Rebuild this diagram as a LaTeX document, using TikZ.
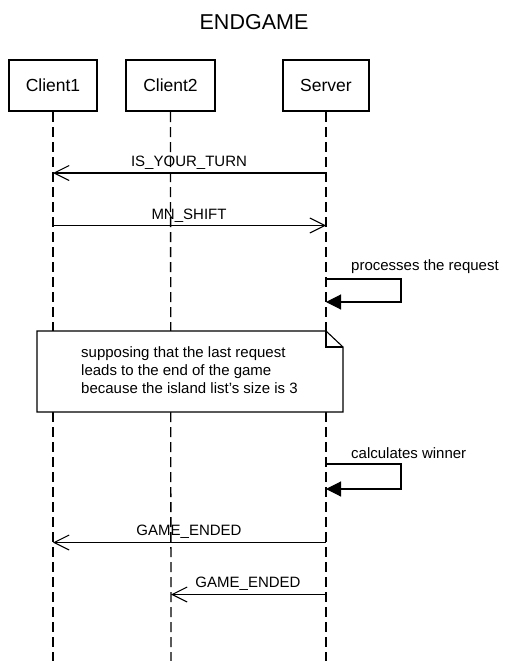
\documentclass[tikz,border=0pt]{standalone}
\usepackage{fontspec}
\setmainfont{Liberation Sans}
\usetikzlibrary{arrows.meta}
\begin{document}
\begin{tikzpicture}[x=1pt,y=-1pt,
  actor/.style={draw,line width=2pt,fill=white,minimum width=88pt,minimum height=51pt,font=\fontsize{17.5}{20}\selectfont,inner sep=0pt},
  lifeline/.style={line width=1.3pt,dash pattern=on 10pt off 5pt},
  msg/.style={line width=1.1pt,-{Straight Barb[length=15pt,width=15pt,line width=1.1pt]}},
  selfmsg/.style={line width=1.1pt,-{Triangle[length=15pt,width=15pt]}},
  lbl/.style={font=\fontsize{15}{18}\selectfont,inner sep=0pt},
  notebox/.style={draw,line width=1.1pt,fill=white}
]
\useasboundingbox (0,0) rectangle (508,661);
\node[font=\fontsize{21.5}{25}\selectfont,inner sep=0pt] (title) at (254,22) {ENDGAME};
\node[actor,minimum width=88pt] (c1) at (53,85.5) {Client1};
\node[actor,minimum width=89pt] (c2) at (170.5,85.5) {Client2};
\node[actor,minimum width=86pt] (sv) at (326,85.5) {Server};
\coordinate (c1e) at (53,661);
\coordinate (c2e) at (171,661);
\coordinate (sve) at (326,661);
\draw[lifeline] (c1.south) -- (c1e);
\draw[lifeline] (c2.south) -- (c2e);
\draw[lifeline] (sv.south) -- (sve);
% messages
\coordinate (s1) at (326,173); \coordinate (c1a) at (53,173);
\draw[msg] (s1) -- (c1a);
\node[lbl,anchor=base] (m1) at (189,166) {IS\_YOUR\_TURN};
\coordinate (c1b) at (53,225.5); \coordinate (s2) at (326,225.5);
\draw[msg] (c1b) -- (s2);
\node[lbl,anchor=base] (m2) at (189,219) {MN\_SHIFT};
% self call 1
\coordinate (p1) at (326,279); \coordinate (p2) at (401,279);
\coordinate (p3) at (401,302); \coordinate (p4) at (326,302);
\draw[selfmsg] (p1) -- (p2) -- (p3) -- (p4);
\node[lbl,anchor=base west] (l3) at (351,270) {processes the request};
% note
\coordinate (n1) at (37,331); \coordinate (n2) at (326,331);
\coordinate (n3) at (343,347); \coordinate (n4) at (343,412); \coordinate (n5) at (37,412);
\draw[notebox] (n1) -- (n2) -- (n3) -- (n4) -- (n5) -- cycle;
\draw[line width=1.1pt] (n2) -- (326,347) -- (n3);
\node[lbl,anchor=north west,align=left] (note) at (81,346) {supposing that the last request\\leads to the end of the game\\because the island list's size is 3};
% self call 2
\coordinate (q1) at (326,464); \coordinate (q2) at (401,464);
\coordinate (q3) at (401,489); \coordinate (q4) at (326,489);
\draw[selfmsg] (q1) -- (q2) -- (q3) -- (q4);
\node[lbl,anchor=base west] (l4) at (351,458) {calculates winner};
% game ended
\coordinate (s5) at (326,542.5); \coordinate (c1d) at (53,542.5);
\draw[msg] (s5) -- (c1d);
\node[lbl,anchor=base] (m5) at (189,535) {GAME\_ENDED};
\coordinate (s6) at (326,594.5); \coordinate (c2d) at (171,594.5);
\draw[msg] (s6) -- (c2d);
\node[lbl,anchor=base] (m6) at (248,587) {GAME\_ENDED};
\end{tikzpicture}
\end{document}
